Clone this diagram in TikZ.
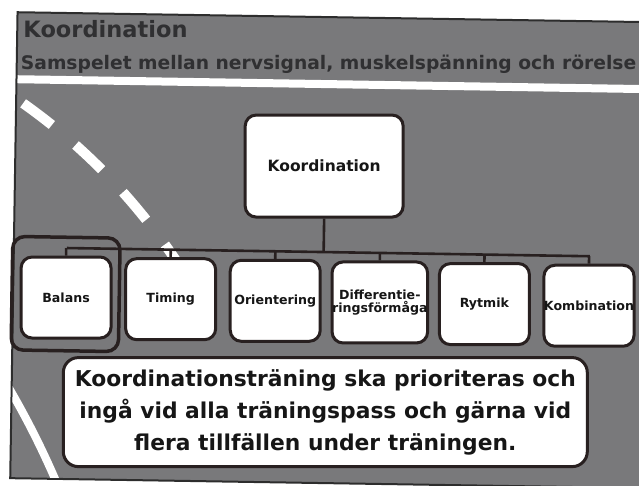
\documentclass[tikz,border=0pt]{standalone}
\usepackage{fontspec}
\setmainfont{DejaVu Sans}
\newfontfamily\slidefont{DejaVu Sans}
\usetikzlibrary{calc}

\definecolor{slidegrey}{RGB}{121,121,123}
\definecolor{boxline}{RGB}{40,32,32}
\definecolor{framedark}{RGB}{45,45,45}
\definecolor{headtext}{RGB}{48,48,50}
\definecolor{boxtext}{RGB}{22,22,22}

\tikzset{
  childbox/.style={draw=boxline, line width=3pt, fill=white, rounded corners=11pt,
    minimum width=90pt, minimum height=81pt, inner sep=0pt, align=center,
    text=boxtext, font=\slidefont\bfseries\fontsize{12.6}{13.5}\selectfont},
  rootbox/.style={childbox, minimum width=158pt, minimum height=102pt,
    font=\slidefont\bfseries\fontsize{15.5}{18}\selectfont},
  notebox/.style={draw=boxline, line width=3pt, fill=white, rounded corners=15pt,
    minimum width=524pt, minimum height=109pt, align=center, inner sep=2pt,
    text=boxtext, font=\slidefont\bfseries\fontsize{21.8}{32}\selectfont},
  conn/.style={draw=boxline, line width=2.6pt},
  roadmark/.style={draw=white, line width=9pt},
  headline/.style={anchor=west, text=headtext, inner sep=0pt}
}

\begin{document}
\begin{tikzpicture}[x=1pt,y=-1pt]
\useasboundingbox (0,0) rectangle (639,485);
\fill[white] (0,0) rectangle (639,485);

\begin{scope}[rotate around={-0.9:(320,240)}]
  % slide background and header
  \fill[slidegrey] (14,17) rectangle (670,483);
  \fill[white] (14,80) rectangle (670,88);
  \draw[framedark, line width=2pt] (670,17) -- (14,17) -- (14,483) -- (670,483);

  \node[headline, font=\slidefont\bfseries\fontsize{22.5}{26}\selectfont] (title) at (20,34) {Koordination};
  \node[headline, font=\slidefont\bfseries\fontsize{18.7}{22}\selectfont] (subtitle) at (18,69) {Samspelet mellan nervsignal, muskelspänning och rörelse};

  % road markings behind the chart
  \begin{scope}
    \clip (15,89) rectangle (670,482);
    \draw[roadmark, line width=10pt, dash pattern=on 36pt off 31pt]
      (21,108) .. controls (75,145) and (130,195) .. (180,268);
    \draw[roadmark, line width=8pt] (6,384) .. controls (28,420) and (44,450) .. (62,490);
  \end{scope}

  % hierarchy
  \node[rootbox] (root) at (323,166) {Koordination};

  \node[childbox] (balans) at (67,301.5) {Balans};
  \node[childbox] (timing) at (171.6,301.5) {Timing};
  \node[childbox] (orient) at (276.2,301.5) {Orientering};
  \node[childbox] (diff) at (380.8,301.5) {Differentie-\\[-1pt]ringsförmåga};
  \node[childbox] (rytmik) at (485.4,301.5) {Rytmik};
  \node[childbox] (komb) at (590,301.5) {Kombination};

  \coordinate (busL) at (67,252);
  \coordinate (busR) at (590,252);
  \draw[conn] (root.south) -- (root.south |- busL);
  \draw[conn] (busL) -- (busR);
  \foreach \c in {balans,timing,orient,diff,rytmik,komb}
    \draw[conn] (\c.north |- busL) -- (\c.north);

  % selection frame round the first item
  \draw[boxline, line width=3.5pt, rounded corners=12pt]
    ($(balans.north west)+(-7,-19)$) rectangle ($(balans.south east)+(6,12)$);

  % note
  \node[notebox] (note) at (328,412)
    {Koordinationsträning ska prioriteras och\\ingå vid alla träningspass och gärna vid\\flera tillfällen under träningen.};
\end{scope}
\end{tikzpicture}
\end{document}
